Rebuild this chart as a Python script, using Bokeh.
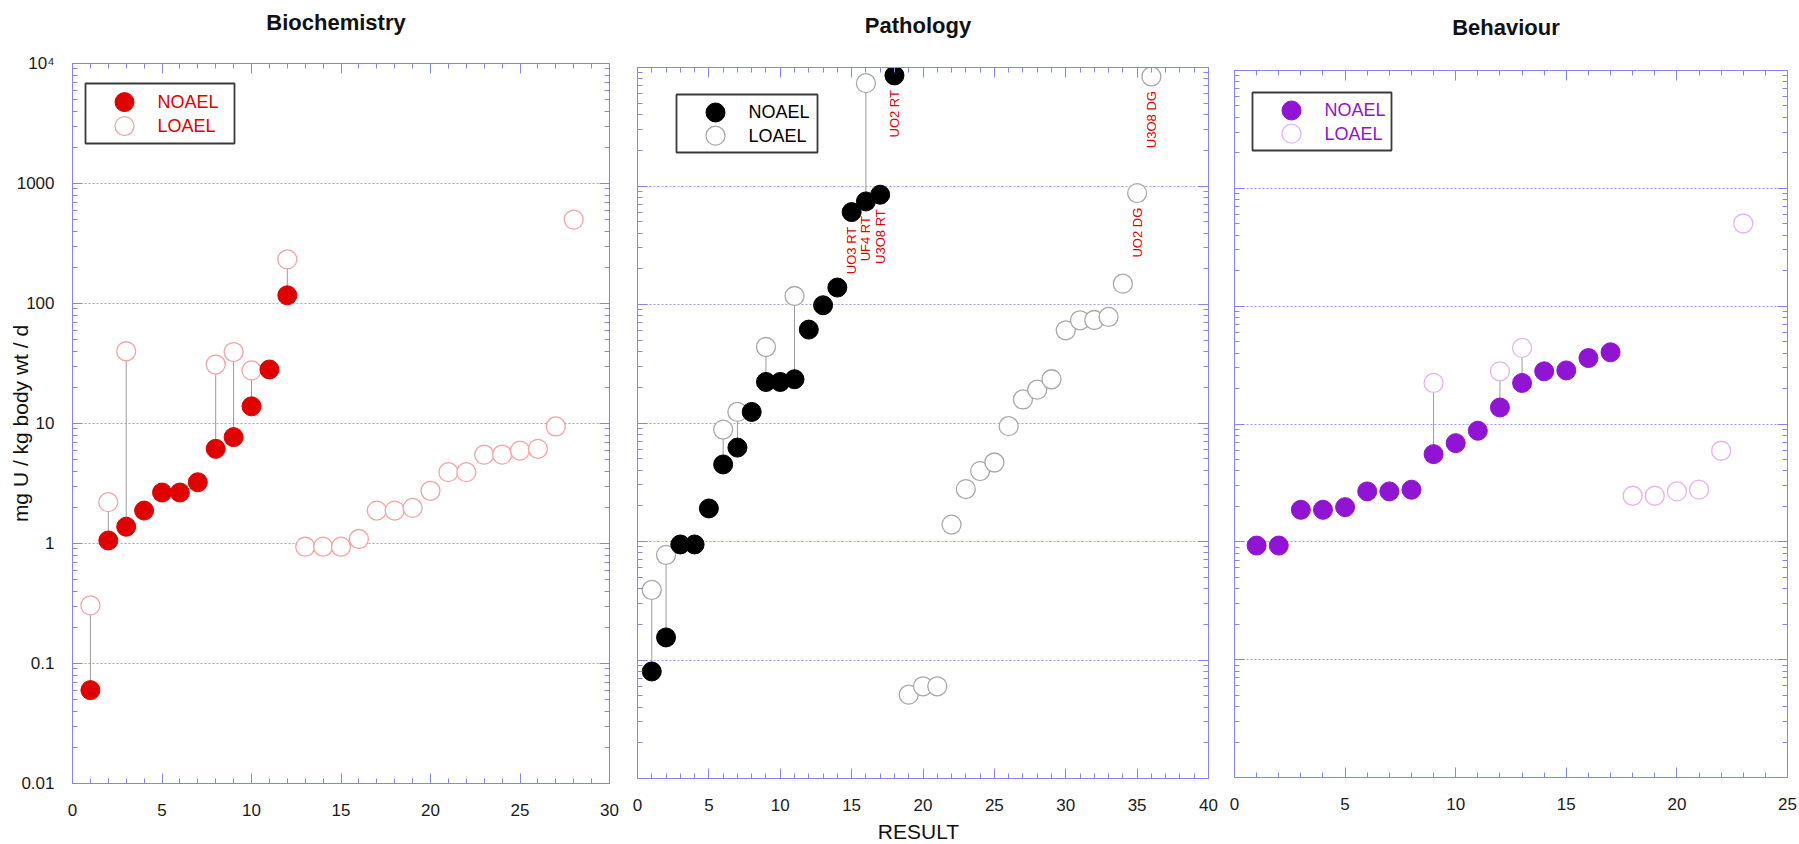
import math
from bokeh.plotting import figure
from bokeh.layouts import row, column
from bokeh.models import (Range1d, LinearScale, LinearAxis, LogAxis, FixedTicker,
                          SingleIntervalTicker, CustomJSTickFormatter)
from bokeh.core.properties import value
from bokeh.embed import file_html
from bokeh.resources import INLINE

FONT = "Liberation Sans"
AXC = "#8585f2"
GRIDC = "#9d9df5"
LINEC = "#9a9a9a"

# ---------------- data ----------------
titles = ["Biochemistry", "Pathology", "Behaviour"]
series_names = ["NOAEL", "LOAEL"]
y_ticks = [0.01, 0.1, 1, 10, 100, 1000, 10000]
x_max = [30, 40, 25]
x_label = "RESULT"
y_label = "mg U / kg body wt / d"

bio_noael_x = [1, 2, 3, 4, 5, 6, 7, 8, 9, 10, 11, 12]
bio_noael_y = [0.06, 1.06, 1.38, 1.88, 2.66, 2.66, 3.24, 6.15, 7.7, 13.9, 28.2, 117]
bio_loael_x = [1, 2, 3, 8, 9, 10, 12, 13, 14, 15, 16, 17, 18, 19, 20, 21, 22, 23, 24, 25, 26, 27, 28]
bio_loael_y = [0.305, 2.21, 40, 31, 39.4, 27.7, 233, 0.94, 0.94, 0.94, 1.09, 1.88, 1.88, 1.98,
               2.75, 3.93, 3.93, 5.5, 5.5, 5.95, 6.15, 9.45, 500]

path_noael_x = [1, 2, 3, 4, 5, 6, 7, 8, 9, 10, 11, 12, 13, 14, 15, 16, 17, 18]
path_noael_y = [0.08, 0.155, 0.944, 0.944, 1.9, 4.47, 6.2, 12.4, 22.2, 22.2, 23.4, 61.4, 98.5,
                139, 602, 741, 845, 8570]
path_loael_x = [1, 2, 6, 7, 9, 11, 16, 19, 20, 21, 22, 23, 24, 25, 26, 27, 28, 29, 30, 31, 32,
                33, 34, 35, 36]
path_loael_y = [0.39, 0.77, 8.8, 12.4, 43.8, 118, 7380, 0.051, 0.060, 0.060, 1.39, 2.77, 3.93,
                4.64, 9.4, 15.8, 19.1, 23.4, 60.5, 73.6, 74, 78.5, 150, 871, 8400]

beh_noael_x = [1, 2, 3, 4, 5, 6, 7, 8, 9, 10, 11, 12, 13, 14, 15, 16, 17]
beh_noael_y = [0.93, 0.93, 1.87, 1.87, 1.97, 2.68, 2.68, 2.77, 5.55, 6.88, 8.77, 13.8, 22.3,
               28.0, 28.5, 36.3, 40.6]
beh_loael_x = [9, 12, 13, 18, 19, 20, 21, 22, 23]
beh_loael_y = [22.3, 28.0, 44.2, 2.46, 2.46, 2.68, 2.77, 5.93, 503]

path_note_series = ["NOAEL", "NOAEL", "NOAEL", "NOAEL", "LOAEL", "LOAEL"]
path_note_x = [15, 16, 17, 18, 35, 36]
path_note_text = ["UO3  RT", "UF4  RT", "U3O8  RT", "UO2  RT", "UO2  DG", "U3O8  DG"]

y_minor = [m * t for t in y_ticks[:-1] for m in range(2, 10)]

TITLE_H = 40
MS = 19


def no_align(fig):
    if "frame_align" in fig.properties():
        fig.frame_align = False


def x_ticker():
    return SingleIntervalTicker(interval=5, num_minor_ticks=5)


def y_ticker():
    return FixedTicker(ticks=y_ticks, minor_ticks=y_minor)


def style_axis(ax, show, standoff=0):
    ax.axis_line_color = AXC
    ax.axis_line_width = 1
    ax.major_tick_line_color = AXC
    ax.minor_tick_line_color = AXC
    ax.major_tick_in = 10
    ax.major_tick_out = 0
    ax.minor_tick_in = 5
    ax.minor_tick_out = 0
    if show:
        ax.major_label_text_font = FONT
        ax.major_label_text_font_size = "17px"
        ax.major_label_text_color = "#1a1a1a"
        ax.major_label_standoff = standoff
    else:
        ax.formatter = CustomJSTickFormatter(code="return '';")
        ax.major_label_text_font_size = "1px"
        ax.major_label_standoff = 0


def text_strip(width, height, xs, ys, texts, size, style="normal"):
    t = figure(width=width, height=height, x_range=Range1d(0, width),
               y_range=Range1d(height, 0), x_axis_location=None, y_axis_location=None,
               output_backend="svg", toolbar_location=None, min_border=0)
    no_align(t)
    t.outline_line_color = None
    t.background_fill_color = "white"
    t.border_fill_color = "white"
    for g in t.grid:
        g.visible = False
    t.text(xs, ys, text=texts, text_align="center", text_baseline="middle",
           text_font=value(FONT), text_font_size=size, text_font_style=style,
           text_color="#111111")
    return t


def make_panel(i, frame_w, frame_h, borders, nx, ny, lx, ly, fill, hollow, txt_color,
               legend_box, show_y):
    bl, br, bt, bb = borders
    p = figure(frame_width=frame_w, frame_height=frame_h,
               x_range=Range1d(0, x_max[i]), y_range=Range1d(y_ticks[0], y_ticks[-1]),
               y_axis_type="log", output_backend="svg", toolbar_location=None,
               min_border_left=bl, min_border_right=br, min_border_top=bt,
               min_border_bottom=bb)
    no_align(p)
    p.background_fill_color = "white"
    p.border_fill_color = "white"
    p.outline_line_color = AXC

    bottom = p.below[0]
    left = p.left[0]
    bottom.ticker = x_ticker()
    left.ticker = y_ticker()
    left.formatter = CustomJSTickFormatter(
        code="return tick >= 9999 ? '10\u2074' : String(tick);")
    style_axis(bottom, True, 20)
    style_axis(left, show_y, 18)

    top = LinearAxis(ticker=x_ticker())
    style_axis(top, False)
    p.add_layout(top, "above")
    right = LogAxis(ticker=y_ticker())
    style_axis(right, False)
    p.add_layout(right, "right")

    p.xgrid.visible = False
    p.ygrid.ticker = y_ticker()
    p.ygrid.grid_line_color = GRIDC
    p.ygrid.grid_line_dash = "2 2"
    p.ygrid.grid_line_width = 1

    # connecting lines between NOAEL and LOAEL of the same result
    lmap = dict(zip(lx, ly))
    sx = [x for x in nx if x in lmap]
    s0 = [y for x, y in zip(nx, ny) if x in lmap]
    s1 = [lmap[x] for x in sx]
    p.segment(x0=sx, y0=s0, x1=sx, y1=s1, line_color=LINEC, line_width=1)
    p.scatter(lx, ly, size=MS, marker="circle", fill_color="white", line_color=hollow,
              line_width=1.3)
    p.scatter(nx, ny, size=MS, marker="circle", fill_color=fill, line_color=fill)

    # legend drawn in frame pixel coordinates
    p.extra_x_ranges = {"px": Range1d(0, frame_w)}
    p.extra_y_ranges = {"px": Range1d(frame_h, 0)}
    p.extra_x_scales = {"px": LinearScale()}
    p.extra_y_scales = {"px": LinearScale()}
    bx, by, bw, bh = legend_box
    p.quad(left=[bx], right=[bx + bw], top=[by], bottom=[by + bh],
           fill_color="white", line_color="#3a3a3a", line_width=1.8,
           x_range_name="px", y_range_name="px")
    r1 = by + bh * 0.31
    r2 = by + bh * 0.71
    p.scatter([bx + 39], [r1], size=MS, marker="circle", fill_color=fill,
              line_color=fill, x_range_name="px", y_range_name="px")
    p.scatter([bx + 39], [r2], size=MS, marker="circle", fill_color="white",
              line_color=hollow, line_width=1.3, x_range_name="px", y_range_name="px")
    p.text([bx + 72, bx + 72], [r1, r2], text=series_names,
           text_color=txt_color, text_font=value(FONT), text_font_size="18px",
           text_baseline="middle", text_align="left",
           x_range_name="px", y_range_name="px")
    return p


RED = "#e00000"
PURPLE = "#9113d3"

# panel geometry: (left, right, top, bottom) borders; page origin is (0, 0)
p1 = make_panel(0, 537, 720, (72, 14, 63 - TITLE_H, 47), bio_noael_x, bio_noael_y,
                bio_loael_x, bio_loael_y, RED, "#f3a3a3", RED, (13, 20, 149, 60), True)
p2 = make_panel(1, 571, 711, (14, 13, 67 - TITLE_H, 41), path_noael_x, path_noael_y,
                path_loael_x, path_loael_y, "#000000", "#a8a8a8", "#000000",
                (39, 27, 141, 58), False)
p3 = make_panel(2, 553, 707, (13, 10, 70 - TITLE_H, 47), beh_noael_x, beh_noael_y,
                beh_loael_x, beh_loael_y, PURPLE, "#e2b4f2", PURPLE, (18, 22, 139, 58), False)

# y-axis title on the first panel
yax = p1.left[0]
yax.axis_label = y_label
yax.axis_label_text_font = FONT
yax.axis_label_text_font_size = "21px"
yax.axis_label_text_font_style = "normal"
yax.axis_label_text_color = "#111111"
yax.axis_label_standoff = -18

nmap = dict(zip(path_noael_x, path_noael_y))
lmap2 = dict(zip(path_loael_x, path_loael_y))
note_y = [nmap[x] if s == "NOAEL" else lmap2[x] for s, x in zip(path_note_series, path_note_x)]
p2.text(path_note_x, note_y, text=path_note_text, angle=math.pi / 2, text_align="right",
        text_baseline="middle", y_offset=11, text_color=RED, text_font=value(FONT),
        text_font_size="13px")

W1, W2, W3 = 623, 598, 576
title_strip = text_strip(W1 + W2 + W3, TITLE_H,
                         [72 + 537 / 2 - 5, W1 + 14 + 571 / 2 - 5, W1 + W2 + 13 + 553 / 2 - 5],
                         [22, 25, 27], titles, "22px", "bold")
xl = text_strip(W2, 24, [295], [12], [x_label], "21px")

layout = column(title_strip, row(column(p1), column(p2, xl), column(p3)))
open("out.html", "w").write(file_html(layout, INLINE))
